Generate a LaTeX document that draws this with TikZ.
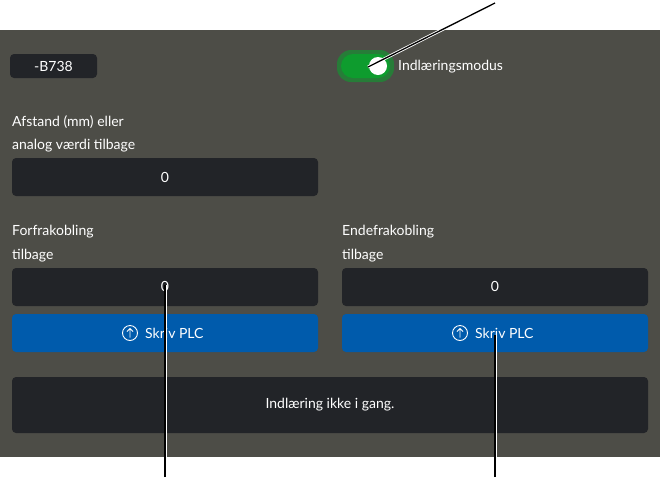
\documentclass[tikz,border=0pt]{standalone}
\usepackage{fontspec}
\setmainfont{Lato}
\definecolor{panel}{HTML}{4D4D47}
\definecolor{field}{HTML}{222428}
\definecolor{btn}{HTML}{005BAC}
\definecolor{tgl}{HTML}{0E9C2E}
\begin{document}
\begin{tikzpicture}[x=1pt,y=-1pt,
  fld/.style={fill=field,rounded corners=4pt,draw=none},
  bt/.style={fill=btn,rounded corners=4pt,draw=none},
  lbl/.style={text=white,font=\fontsize{14}{16}\selectfont,anchor=west,inner sep=0},
  val/.style={text=white,font=\fontsize{14}{16}\selectfont,inner sep=0},
  call/.style={draw=white,line width=3pt},
  calli/.style={draw=black,line width=1.3pt}]
\useasboundingbox (0,0) rectangle (660,488);
\fill[panel] (0,30) rectangle (660,457);
\fill[fld] (10,54) rectangle (97,78);
\node[val] (tag) at (53.5,66) {-B738};
\fill[tgl!60!panel,rounded corners=14pt] (337,50) rectangle (394,82);
\fill[tgl,rounded corners=12pt] (341,54) rectangle (390,78);
\fill[white] (378,66) circle (9);
\coordinate (knob) at (368,67);
\node[lbl] (mode) at (398,67) {Indlæringsmodus};
\node[lbl] at (12,122) {Afstand (mm) eller};
\node[lbl] at (12,146) {analog værdi tilbage};
\fill[fld] (12,158) rectangle (318,196);
\node[val] at (165,177) {0};
\node[lbl] at (12,232) {Forfrakobling};
\node[lbl] at (12,256) {tilbage};
\node[lbl] at (342,232) {Endefrakobling};
\node[lbl] at (342,256) {tilbage};
\fill[fld] (12,268) rectangle (318,306);
\fill[fld] (342,268) rectangle (648,306);
\node[val] (v1) at (165,286) {0};
\node[val] (v2) at (495,286) {0};
\fill[bt] (12,314) rectangle (318,352);
\fill[bt] (342,314) rectangle (648,352);
\draw[white,line width=0.9pt] (130,333) circle (7.5);
\draw[white,line width=0.9pt] (130,337.5)--(130,329) (127,331.5)--(130,328.5)--(133,331.5);
\draw[white,line width=0.9pt] (460,333) circle (7.5);
\draw[white,line width=0.9pt] (460,337.5)--(460,329) (457,331.5)--(460,328.5)--(463,331.5);
\node[lbl] (b1) at (145,333) {Skriv PLC};
\node[lbl] (b2) at (475,333) {Skriv PLC};
\fill[fld] (12,377) rectangle (648,433);
\node[val] (st) at (330,405) {Indlæring ikke i gang.};
\coordinate (t1) at (495,3);
\coordinate (e1) at (165,477);
\coordinate (e2) at (495,477);
\coordinate (p1) at (165,285);
\coordinate (p2) at (495,335);
\draw[call] (t1)--(knob);
\draw[calli] (t1)--(knob);
\draw[call] (e1)--(p1);
\draw[calli] (e1)--(p1);
\draw[call] (e2)--(p2);
\draw[calli] (e2)--(p2);
\end{tikzpicture}
\end{document}
